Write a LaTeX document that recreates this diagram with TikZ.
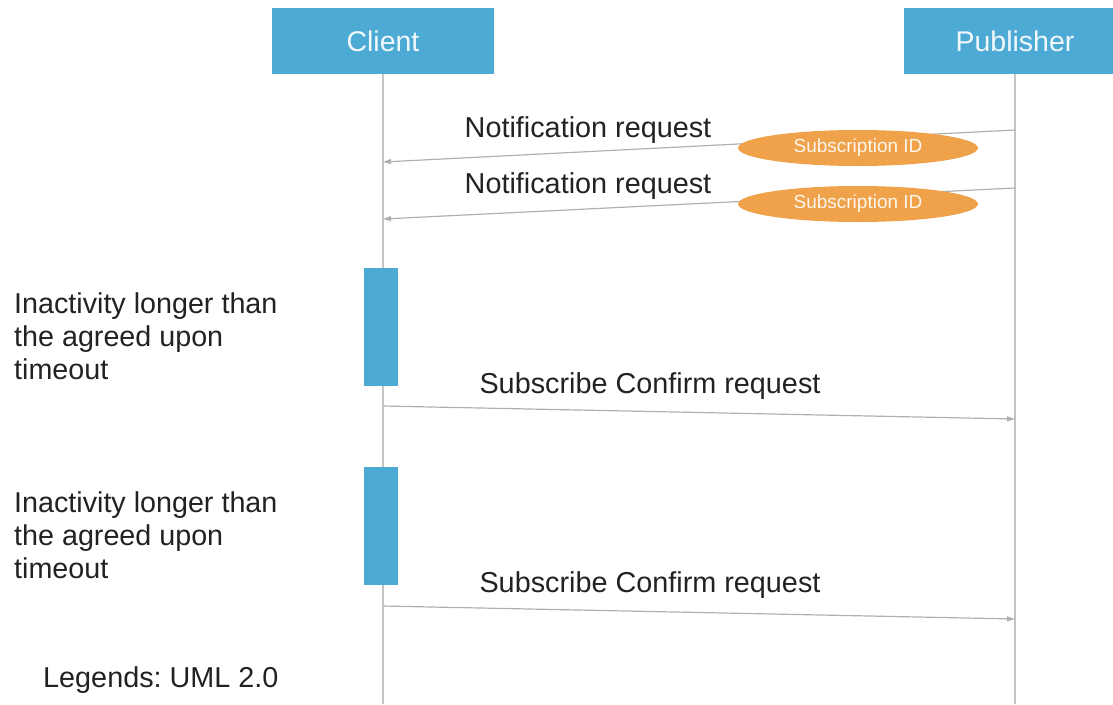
\documentclass[tikz,border=0pt]{standalone}
\usepackage{fontspec}
\setmainfont{Liberation Sans}
\usetikzlibrary{positioning, arrows.meta, shapes.geometric}
\definecolor{umlblue}{RGB}{77,170,213}
\definecolor{idorange}{RGB}{240,162,74}
\definecolor{lifegray}{RGB}{196,196,196}
\definecolor{msggray}{RGB}{176,176,176}
\definecolor{textgray}{RGB}{34,34,34}
\frenchspacing

\begin{document}
\begin{tikzpicture}
    [
        x=1pt, y=-1pt,
        head_node/.style={rectangle, fill=umlblue, text=white!92!umlblue, minimum width=222pt, minimum height=66pt, inner sep=0pt, font=\fontsize{28.5}{34}\selectfont},
        act_node/.style={rectangle, fill=umlblue, minimum width=34pt, minimum height=118pt, inner sep=0pt},
        id_node/.style={ellipse, fill=idorange, text=white!90!idorange, minimum width=240pt, minimum height=36pt, inner sep=0pt, font=\fontsize{19}{22}\selectfont},
        msg_text/.style={text=textgray, inner sep=0pt, anchor=base, font=\fontsize{28.8}{34}\selectfont},
        note_text/.style={text=textgray, inner sep=0pt, align=left, font=\fontsize{28.7}{33}\selectfont},
        life_line/.style={draw=lifegray, line width=1.3pt},
        msg_line/.style={draw=msggray, line width=1.2pt, -{Triangle[length=8pt, width=5pt]}},
    ]
        \useasboundingbox (0,0) rectangle (1113,704) ;
        \clip (0,0) rectangle (1113,704) ;
        \node[head_node] (client) at (383,41) {Client} ;
        \node[head_node] (publisher) at (1015,41) {Publisher} ;
        \coordinate (client-end) at (383,704) ;
        \coordinate (publisher-end) at (1015,704) ;
        \draw[life_line] (client) -- (client-end) ;
        \draw[life_line] (publisher) -- (publisher-end) ;
        \coordinate (notify1-from) at (1015,130) ;
        \coordinate (notify1-to) at (383,162) ;
        \coordinate (notify2-from) at (1015,188) ;
        \coordinate (notify2-to) at (383,219) ;
        \coordinate (confirm1-from) at (383,406) ;
        \coordinate (confirm1-to) at (1015,419) ;
        \coordinate (confirm2-from) at (383,606) ;
        \coordinate (confirm2-to) at (1015,619) ;
        \draw[msg_line] (notify1-from) -- (notify1-to) ;
        \draw[msg_line] (notify2-from) -- (notify2-to) ;
        \draw[msg_line] (confirm1-from) -- (confirm1-to) ;
        \draw[msg_line] (confirm2-from) -- (confirm2-to) ;
        \node[id_node] (subid1) at (858,148) {Subscription ID} ;
        \node[id_node] (subid2) at (858,204) {Subscription ID} ;
        \node[msg_text] (notify1) at (588,137) {Notification request} ;
        \node[msg_text] (notify2) at (588,193) {Notification request} ;
        \node[msg_text] (confirm1) at (650,393) {Subscribe Confirm request} ;
        \node[msg_text] (confirm2) at (650,592) {Subscribe Confirm request} ;
        \node[act_node] (act1) at (381,326.5) {} ;
        \node[act_node] (act2) at (381,525.5) {} ;
        \node[note_text, anchor=west] (idle1) at (14,336) {Inactivity longer than\\the agreed upon\\timeout} ;
        \node[note_text, anchor=west] (idle2) at (14,535) {Inactivity longer than\\the agreed upon\\timeout} ;
        \node[msg_text, anchor=base west] (legend) at (43,687) {Legends: UML 2.0} ;
    \end{tikzpicture}
\end{document}
